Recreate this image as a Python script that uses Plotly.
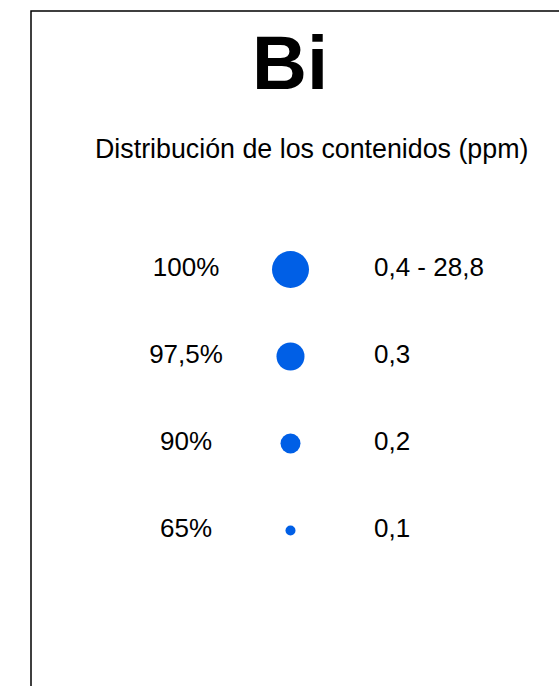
import plotly.graph_objects as go

# ---- data ----
element = "Bi"
subtitle = "Distribución de los contenidos (ppm)"
percentiles = ["100%", "97,5%", "90%", "65%"]
ranges = ["0,4 - 28,8", "0,3", "0,2", "0,1"]

# ---- styling ----
marker_px = [37, 28, 20, 10]
dot_color = "#005FE6"
font_family = "Liberation Sans, Arial, sans-serif"
W, H = 559, 686

rows = list(range(len(percentiles)))

fig = go.Figure()

# percentile labels
fig.add_trace(go.Scatter(
    x=[186] * len(rows), y=rows, mode="text", text=percentiles,
    textposition="middle center",
    textfont=dict(family=font_family, size=26, color="#000000"),
    hoverinfo="skip", showlegend=False))

# dots
fig.add_trace(go.Scatter(
    x=[290.5] * len(rows), y=rows, mode="markers",
    marker=dict(size=marker_px, color=dot_color, opacity=1, line=dict(width=0)),
    hoverinfo="skip", showlegend=False))

# range labels
fig.add_trace(go.Scatter(
    x=[374] * len(rows), y=rows, mode="text", text=ranges,
    textposition="middle right",
    textfont=dict(family=font_family, size=26, color="#000000"),
    hoverinfo="skip", showlegend=False))

# y mapping: row 0 at 269px, spacing ~87px
sp = 87.0
y_top = -269.5 / sp
y_bot = (H - 269.5) / sp

fig.update_layout(
    width=W, height=H,
    margin=dict(l=0, r=0, t=0, b=0),
    paper_bgcolor="white", plot_bgcolor="white",
    xaxis=dict(range=[0, W], visible=False, fixedrange=True),
    yaxis=dict(range=[y_bot, y_top], visible=False, fixedrange=True),
    annotations=[
        dict(text=f"<b>{element}</b>", x=290 / W, y=1 - 63 / H,
             xref="paper", yref="paper", showarrow=False,
             xanchor="center", yanchor="middle",
             font=dict(family=font_family, size=76, color="#000000")),
        dict(text=subtitle, x=311.5 / W, y=1 - 149 / H,
             xref="paper", yref="paper", showarrow=False,
             xanchor="center", yanchor="middle",
             font=dict(family=font_family, size=26.8, color="#000000")),
    ],
    shapes=[dict(type="rect", xref="paper", yref="paper",
                 x0=31 / W, x1=1.02, y0=-0.02, y1=1 - 11 / H,
                 line=dict(color="#000000", width=1.5))],
)

fig.write_html(
    "out.html",
    config={"displayModeBar": False},
    post_script="document.body.style.margin='0';document.body.style.overflow='hidden';",
)
